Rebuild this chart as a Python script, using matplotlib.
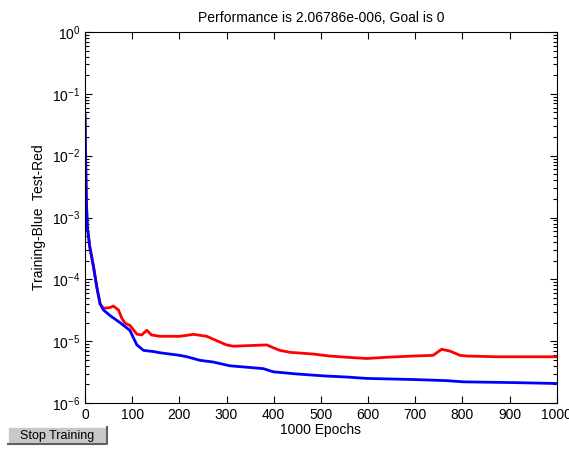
import numpy as np
import matplotlib
matplotlib.use("Agg")
import matplotlib.pyplot as plt
from matplotlib.patches import Rectangle
from matplotlib.lines import Line2D

plt.rcParams['font.family'] = ['Liberation Sans', 'DejaVu Sans']
plt.rcParams['font.size'] = 10
plt.rcParams['axes.unicode_minus'] = False

# training (blue) performance
train_ep = [0, 1, 3, 5, 10, 18, 25, 32, 39, 53, 74, 95, 110, 124, 145, 159,
            201, 216, 244, 272, 307, 378, 399, 449, 505, 555, 597, 696, 767,
            802, 908, 1000]
train_perf = [4.5e-2, 1.1e-2, 1.7e-3, 7.0e-4, 3.4e-4, 1.6e-4, 7.5e-5, 4.0e-5,
              3.2e-5, 2.6e-5, 2.0e-5, 1.5e-5, 8.7e-6, 7.1e-6, 6.8e-6, 6.5e-6,
              5.9e-6, 5.6e-6, 4.9e-6, 4.6e-6, 4.0e-6, 3.6e-6, 3.2e-6, 2.95e-6,
              2.75e-6, 2.63e-6, 2.5e-6, 2.4e-6, 2.3e-6, 2.2e-6, 2.14e-6, 2.07e-6]

# test (red) performance
test_ep = [0, 1, 3, 5, 10, 18, 25, 32, 39, 53, 60, 71, 78, 85, 95, 110, 120,
           131, 141, 159, 201, 230, 258, 279, 300, 314, 385, 413, 435, 484,
           519, 555, 597, 640, 696, 738, 756, 774, 795, 809, 873, 1000]
test_perf = [4.5e-2, 1.1e-2, 1.7e-3, 7.0e-4, 3.4e-4, 1.6e-4, 7.5e-5, 4.0e-5,
             3.4e-5, 3.5e-5, 3.7e-5, 3.2e-5, 2.35e-5, 1.95e-5, 1.8e-5, 1.3e-5,
             1.26e-5, 1.5e-5, 1.26e-5, 1.2e-5, 1.2e-5, 1.29e-5, 1.2e-5,
             1.02e-5, 8.7e-6, 8.3e-6, 8.7e-6, 7.1e-6, 6.6e-6, 6.2e-6, 5.75e-6,
             5.5e-6, 5.25e-6, 5.5e-6, 5.75e-6, 5.9e-6, 7.4e-6, 6.9e-6, 5.9e-6,
             5.75e-6, 5.6e-6, 5.6e-6]

x_ticks = list(range(0, 1001, 100))

fig = plt.figure(figsize=(5.69, 4.5), dpi=100)
ax = fig.add_axes([0.1494, 0.1044, 0.829, 0.8244])

ax.semilogy(test_ep, test_perf, color='#ff0000', lw=2.0)
ax.semilogy(train_ep, train_perf, color='#0000ff', lw=2.0)

ax.set_xlim(0, 1000)
ax.set_ylim(1e-6, 1e0)
ax.set_xticks(x_ticks)
ax.tick_params(which='both', direction='in', top=True, right=True,
               colors='black', labelsize=10)
ax.tick_params(which='major', length=5, width=0.8)
ax.tick_params(which='minor', length=3, width=0.8)
ax.tick_params(axis='x', which='minor', bottom=False, top=False)

ax.set_title('Performance is 2.06786e-006, Goal is 0', fontsize=10, pad=7)
ax.set_xlabel('1000 Epochs', fontsize=10, labelpad=1)
ax.set_ylabel('Training-Blue  Test-Red', fontsize=10, labelpad=4)

# "Stop Training" button
bx, by, bw, bh = 8/569, 1 - 444/450, 99/569, 17/450
fig.patches.append(Rectangle((bx, by), bw, bh, transform=fig.transFigure,
                             facecolor='#c8c8c8', edgecolor='none'))
fig.lines.append(Line2D([bx, bx, bx + bw], [by, by + bh, by + bh],
                        transform=fig.transFigure, color='white', lw=1.2))
fig.lines.append(Line2D([bx, bx + bw, bx + bw], [by, by, by + bh],
                        transform=fig.transFigure, color='#606060', lw=1.5))
fig.text(bx + bw/2, by + bh/2, 'Stop Training', ha='center', va='center',
         fontsize=9)

fig.savefig('out.png', dpi=100)
